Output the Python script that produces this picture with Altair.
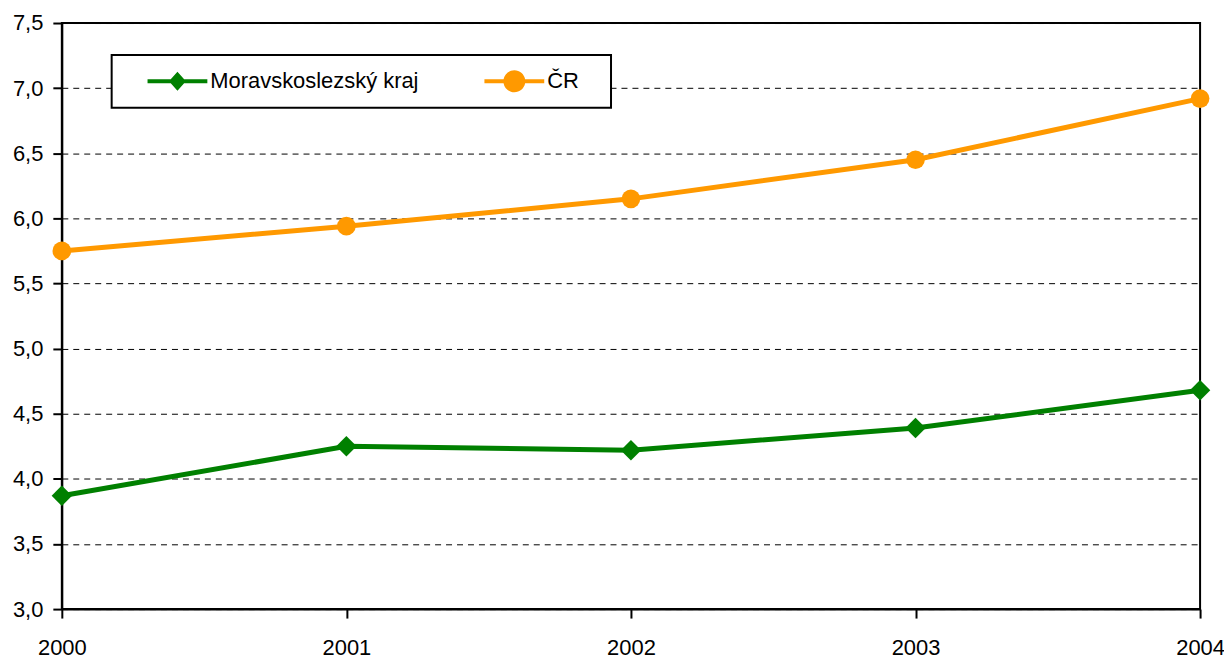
import altair as alt
import pandas as pd

years = [2000, 2001, 2002, 2003, 2004]
series_names = ["Moravskoslezský kraj", "ČR"]
msk_values = [3.87, 4.25, 4.22, 4.39, 4.68]
cr_values = [5.75, 5.94, 6.15, 6.45, 6.92]
y_ticks = [3.0, 3.5, 4.0, 4.5, 5.0, 5.5, 6.0, 6.5, 7.0, 7.5]
colors = ["#008000", "#FF9900"]
marker_shapes = ["diamond", "circle"]
marker_sizes = [420, 350]

rows = []
for yr, v in zip(years, msk_values):
    rows.append({"year": yr, "value": v, "series": series_names[0]})
for yr, v in zip(years, cr_values):
    rows.append({"year": yr, "value": v, "series": series_names[1]})
df = pd.DataFrame(rows)

FONT = "Liberation Sans, Arial, sans-serif"

# legend symbols: line segment with marker
path_msk = "M-3,-0.2L-0.671,-0.2L0,-0.95L0.671,-0.2L3,-0.2L3,0.2L0.671,0.2L0,0.95L-0.671,0.2L-3,0.2Z"
path_cr = "M-3,-0.2L-1.082,-0.2A1.1,1.1,0,0,1,1.082,-0.2L3,-0.2L3,0.2L1.082,0.2A1.1,1.1,0,0,1,-1.082,0.2L-3,0.2Z"

x_enc = alt.X("year:Q",
              scale=alt.Scale(domain=[2000, 2004], nice=False, zero=False),
              axis=alt.Axis(values=years, format="d", title=None, grid=False, labelFlush=False))
y_enc = alt.Y("value:Q",
              scale=alt.Scale(domain=[3, 7.5], nice=False, zero=False),
              axis=alt.Axis(values=y_ticks, title=None, grid=True,
                            labelExpr="replace(format(datum.value, '.1f'), '.', ',')"))

leg = alt.Legend(title=" ", titleOrient="right", titleFontSize=1, titlePadding=17,
                 orient="none", legendX=50, legendY=32, direction="horizontal",
                 symbolSize=400, symbolOffset=40, labelOffset=22, columnPadding=44,
                 padding=15, strokeColor="black", fillColor="white",
                 labelFontSize=22, labelFont=FONT, labelColor="black",
                 symbolStrokeWidth=0, labelLimit=400)

base = alt.Chart(df)

layers = []
for name, col in zip(series_names, colors):
    layers.append(base.transform_filter(alt.datum.series == name)
                  .mark_line(strokeWidth=5, color=col)
                  .encode(x=x_enc, y=y_enc))
for name, col, shp, sz in zip(series_names, colors, marker_shapes, marker_sizes):
    layers.append(base.transform_filter(alt.datum.series == name)
                  .mark_point(shape=shp, filled=True, size=sz, opacity=1, color=col)
                  .encode(x=x_enc, y=y_enc))

legend_layer = base.transform_filter("false").mark_point(filled=True, opacity=1).encode(
    x=x_enc, y=y_enc,
    color=alt.Color("series:N", scale=alt.Scale(domain=series_names, range=colors), legend=leg),
    shape=alt.Shape("series:N", scale=alt.Scale(domain=series_names, range=[path_msk, path_cr]),
                    legend=leg))
layers.append(legend_layer)

chart = alt.layer(*layers).properties(
    width=1142, height=588, autosize="none",
    padding={"left": 54, "top": 14, "right": 24, "bottom": 50}
).configure_view(
    stroke="black", strokeWidth=2
).configure_axis(
    domainColor="black", domainWidth=2, tickColor="black", tickWidth=2, tickSize=9,
    labelFont=FONT, labelFontSize=22, labelColor="black",
    gridColor="#000000", gridDash=[6, 5], gridWidth=1
).configure_axisX(
    labelPadding=20
).configure_axisY(
    labelPadding=10
).configure_legend(
    strokeWidth=2
)

chart.save("out.html", embed_options={"renderer": "svg", "actions": False})
